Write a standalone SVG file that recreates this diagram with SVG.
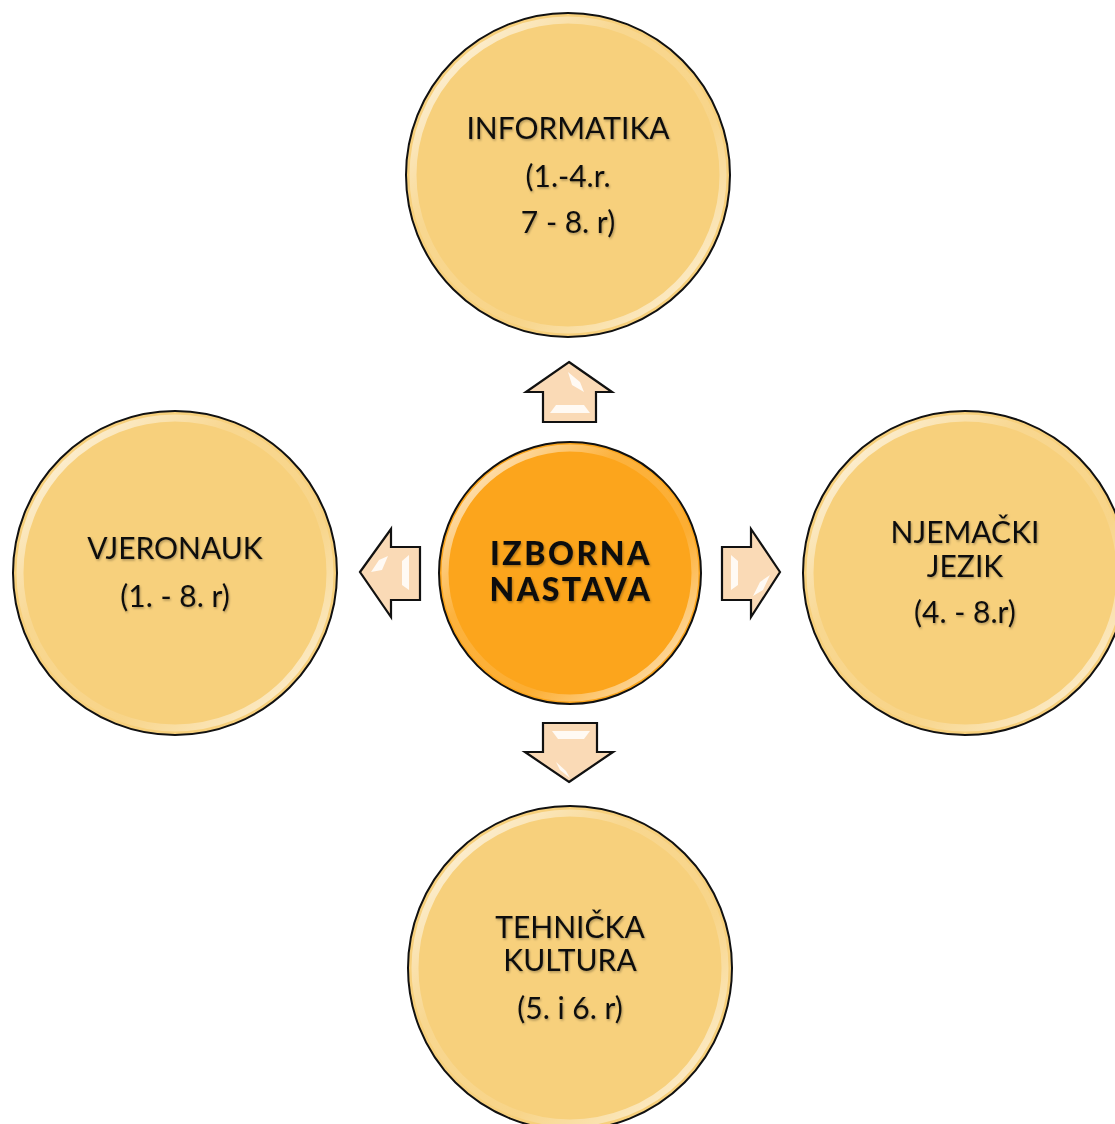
<svg xmlns="http://www.w3.org/2000/svg" width="1115" height="1124" viewBox="0 0 1115 1124">
<style>
.c{fill:#F7D07C;stroke:#111;stroke-width:2}
.cc{fill:#FCA51C;stroke:#111;stroke-width:2}
.gl{fill:none;stroke:url(#gloss);stroke-width:7}
.t{font-family:Lato,"Open Sans",sans-serif;font-size:30px;fill:#111;text-anchor:middle;filter:url(#sh)}
.tb{font-family:Lato,"Open Sans",sans-serif;font-size:32px;font-weight:900;fill:#111;text-anchor:middle;letter-spacing:2.5px;filter:url(#sh)}
.ar{fill:#FADAB6;stroke:#111;stroke-width:2.2;stroke-linejoin:miter}
.hl{fill:#fff;opacity:0.85}
</style>
<defs>
<linearGradient id="gloss" x1="0" y1="0" x2="1" y2="1">
<stop offset="0" stop-color="#fff" stop-opacity="0.9"/>
<stop offset="0.35" stop-color="#fff" stop-opacity="0.15"/>
<stop offset="0.65" stop-color="#fff" stop-opacity="0.1"/>
<stop offset="1" stop-color="#fff" stop-opacity="0.8"/>
</linearGradient>
<filter id="sh" x="-10%" y="-30%" width="120%" height="160%">
<feDropShadow dx="1" dy="1.5" stdDeviation="1" flood-color="#000" flood-opacity="0.3"/>
</filter>
</defs>
<g id="connectors">
<path class="ar" d="M569,362 L612,392 L596,392 L596,422 L543,422 L543,392 L526,392 Z"/>
<path class="hl" d="M568,372 L580,382 L584,392 L572,385 Z M550,413 L590,413 L584,405 L556,405 Z"/>
<path class="ar" d="M360,572 L391,529 L391,547 L420,547 L420,600 L391,600 L391,617 Z"/>
<path class="hl" d="M371,572 L379,560 L388,556 L382,570 Z M409,555 L409,590 L402,585 L402,561 Z"/>
<path class="ar" d="M780,572 L751,529 L751,547 L722,547 L722,600 L751,600 L751,617 Z"/>
<path class="hl" d="M731,555 L731,590 L738,585 L738,561 Z M753,596 L760,582 L770,575 L763,590 Z"/>
<path class="ar" d="M569,782 L613,752 L597,752 L597,723 L543,723 L543,752 L525,752 Z"/>
<path class="hl" d="M552,731 L590,731 L584,739 L558,739 Z M556,762 L566,771 L570,778 L560,770 Z"/>
</g>
<g id="node-informatika">
<circle class="c" cx="568" cy="175" r="162"/>
<circle class="gl" cx="568" cy="175" r="155"/>
<text class="t" x="568" y="139">INFORMATIKA</text>
<text class="t" x="568" y="187">(1.-4.r.</text>
<text class="t" x="568" y="233">7 - 8. r)</text>
</g>
<g id="node-vjeronauk">
<circle class="c" cx="175" cy="573" r="162"/>
<circle class="gl" cx="175" cy="573" r="155"/>
<text class="t" x="175" y="559">VJERONAUK</text>
<text class="t" x="175" y="607">(1. - 8. r)</text>
</g>
<g id="node-njemacki">
<circle class="c" cx="965" cy="573" r="162"/>
<circle class="gl" cx="965" cy="573" r="155"/>
<text class="t" x="965" y="543">NJEMAČKI</text>
<text class="t" x="965" y="577">JEZIK</text>
<text class="t" x="965" y="623">(4. - 8.r)</text>
</g>
<g id="node-tehnicka">
<circle class="c" cx="570" cy="968" r="162"/>
<circle class="gl" cx="570" cy="968" r="155"/>
<text class="t" x="570" y="938">TEHNIČKA</text>
<text class="t" x="570" y="971">KULTURA</text>
<text class="t" x="570" y="1019">(5. i 6. r)</text>
</g>
<g id="node-izborna">
<circle class="cc" cx="570" cy="573" r="131"/>
<circle class="gl" cx="570" cy="573" r="125"/>
<text class="tb" x="571" y="565">IZBORNA</text>
<text class="tb" x="571" y="601">NASTAVA</text>
</g>
</svg>
